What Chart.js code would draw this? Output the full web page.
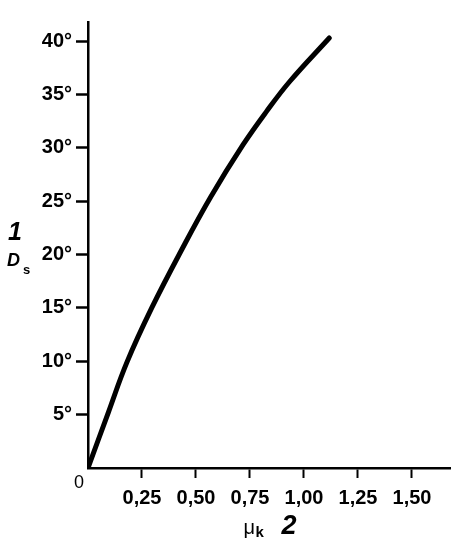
<!DOCTYPE html>
<html>
<head>
<meta charset="utf-8">
<script src="https://cdn.jsdelivr.net/npm/chart.js@4"></script>
<style>
  html, body { margin: 0; padding: 0; background: #fff; }
  canvas { display: block; }
</style>
</head>
<body>
<canvas id="chart" width="456" height="550"></canvas>
<script>
// curve
const muValues = [0, 0.094, 0.18, 0.295, 0.435, 0.568, 0.718, 0.826, 0.933, 1.117];
const dsValues = [0, 5.2, 9.9, 15.0, 20.5, 25.4, 30.3, 33.4, 36.2, 40.3];

const xTicks = [0.25, 0.5, 0.75, 1.0, 1.25, 1.5];
const xTickLabels = ['0,25', '0,50', '0,75', '1,00', '1,25', '1,50'];
const yTicks = [5, 10, 15, 20, 25, 30, 35, 40];
const yTickLabels = ['5°', '10°', '15°', '20°', '25°', '30°', '35°', '40°'];

const points = muValues.map((m, i) => ({ x: m, y: dsValues[i] }));

const FONT = 'Liberation Sans, Arial, Helvetica, sans-serif';

// axis titles and the corner zero
const labelsPlugin = {
    id: 'axisLabels',
    afterDraw(chart) {
        const c = chart.ctx;
        const xs = chart.scales.x, ys = chart.scales.y;
        const x0 = xs.getPixelForValue(0);
        const y0 = ys.getPixelForValue(0);
        c.save();
        c.fillStyle = '#000';
        c.textBaseline = 'middle';

        // "0" at the origin
        c.font = '18px ' + FONT;
        c.textAlign = 'center';
        c.fillText('0', x0 - 9, y0 + 15);

        // y title: "1" over "Ds"
        c.textAlign = 'left';
        c.font = 'italic bold 25px ' + FONT;
        c.fillText('1', 8, ys.getPixelForValue(22.0));
        c.font = 'italic bold 18px ' + FONT;
        c.fillText('D', 7, ys.getPixelForValue(19.4));
        c.font = 'bold 13px ' + FONT;
        c.fillText('s', 23, ys.getPixelForValue(18.5));

        // x title: "μk 2"
        const xm = xs.getPixelForValue(0.72);
        c.font = '20px ' + FONT;
        c.fillText('μ', xm, 528);
        c.font = 'bold 15px ' + FONT;
        c.fillText('k', xm + 12, 533);
        c.font = 'italic bold 27px ' + FONT;
        c.fillText('2', xm + 38, 527);
        c.restore();
    }
};

new Chart(document.getElementById('chart').getContext('2d'), {
    type: 'scatter',
    data: {
        datasets: [{
            data: points,
            showLine: true,
            borderColor: '#000',
            borderWidth: 5,
            pointRadius: 0,
            tension: 0.4,
            borderCapStyle: 'round',
            fill: false
        }]
    },
    options: {
        responsive: false,
        animation: false,
        layout: { padding: { top: 22, right: 6, left: 0, bottom: 0 } },
        plugins: {
            legend: { display: false },
            tooltip: { enabled: false }
        },
        scales: {
            x: {
                type: 'linear',
                min: 0,
                max: 1.676,
                afterBuildTicks: s => { s.ticks = xTicks.map(v => ({ value: v })); },
                afterFit: s => { s.height = 82; },
                grid: {
                    drawOnChartArea: false,
                    drawTicks: true,
                    tickLength: 10,
                    tickWidth: 2,
                    tickColor: '#000'
                },
                border: { display: true, color: '#000', width: 2.5 },
                ticks: {
                    color: '#000',
                    padding: 8,
                    maxRotation: 0,
                    autoSkip: false,
                    font: { family: FONT, size: 20, weight: 'bold' },
                    callback: v => xTickLabels[xTicks.indexOf(v)]
                }
            },
            y: {
                type: 'linear',
                min: 0,
                max: 41.8,
                afterBuildTicks: s => { s.ticks = yTicks.map(v => ({ value: v })); },
                afterFit: s => { s.width = 88; },
                grid: {
                    drawOnChartArea: false,
                    drawTicks: true,
                    tickLength: 12,
                    tickWidth: 2.5,
                    tickColor: '#000'
                },
                border: { display: true, color: '#000', width: 2.5 },
                ticks: {
                    color: '#000',
                    padding: 4,
                    autoSkip: false,
                    font: { family: FONT, size: 20, weight: 'bold' },
                    callback: v => yTickLabels[yTicks.indexOf(v)]
                }
            }
        }
    },
    plugins: [labelsPlugin]
});
</script>
</body>
</html>
